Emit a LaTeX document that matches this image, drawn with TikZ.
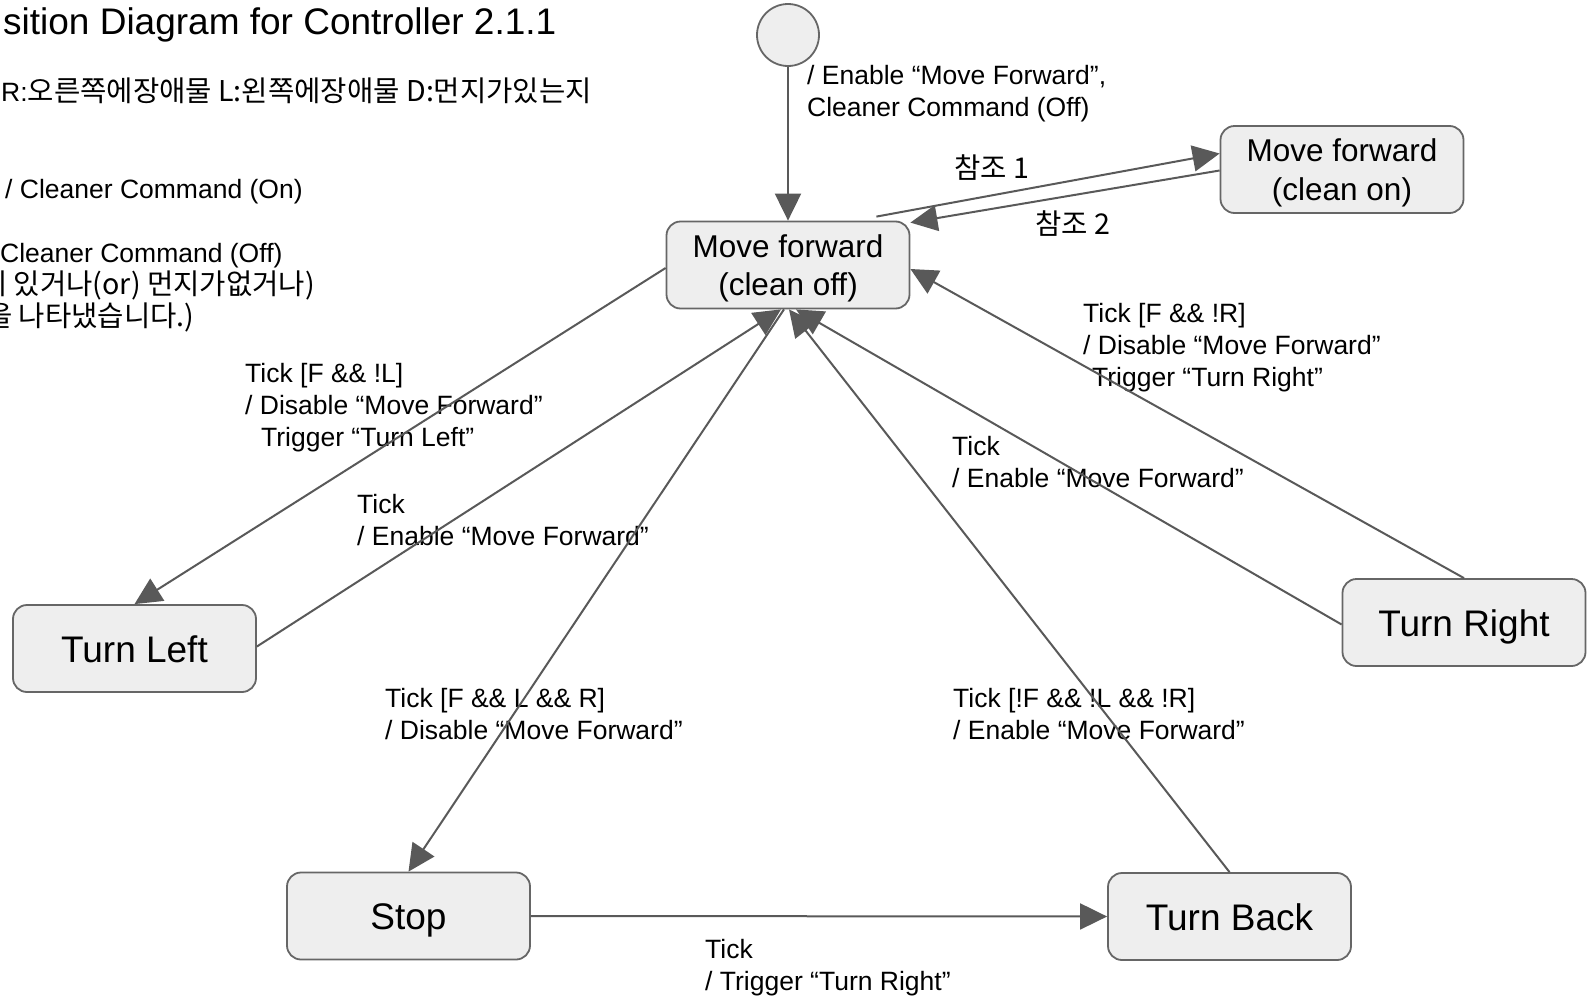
\documentclass[tikz,border=0pt]{standalone}
\usepackage{fontspec}
\setmainfont{Liberation Sans}
\newfontfamily\kr[Scale=1.08]{Noto Sans CJK KR}
\usepackage{tikz}
\usepackage{xcolor}
\usetikzlibrary{arrows.meta}
\usetikzlibrary{calc}
\definecolor{stategray}{HTML}{EEEEEE}
\definecolor{bordergray}{HTML}{666666}
\definecolor{linegray}{HTML}{595959}

\begin{document}
\begin{tikzpicture}[x=1pt,y=-1pt,
		state/.style={draw=bordergray,fill=stategray,line width=1.8pt,rounded corners=14pt,minimum width=243pt,minimum height=87pt,inner sep=0pt,align=center},
		small/.style={font=\fontsize{31.5}{38.5}\selectfont},
		big/.style={font=\fontsize{37}{44}\selectfont,text height=27pt,text depth=0pt},
		trans/.style={draw=linegray,line width=2pt,-{Triangle[length=27pt,width=26pt]}},
		lbl/.style={anchor=base west,inner sep=0pt,align=left,font=\fontsize{26.5}{32}\selectfont}]
				\useasboundingbox (0,0) rectangle (1591,996);
				\node[draw=bordergray,fill=stategray,line width=1.8pt,circle,minimum size=62pt,inner sep=0pt] (init) at (788,35) {};
				\node[state,small] (mfoff) at (788,265) {Move forward\\\smash{(clean off)}};
				\node[state,small] (mfon) at (1342,169.5) {Move forward\\\smash{(clean on)}};
				\node[state,big] (tl) at (134.5,648.5) {Turn Left};
				\node[state,big] (tr) at (1464,622.5) {Turn Right};
				\node[state,big] (stop) at (408.5,916) {Stop};
				\node[state,big] (tb) at (1229.5,916.5) {Turn Back};
				\node[lbl,font=\fontsize{37}{44}\selectfont] (title) at (3,34) {sition Diagram for Controller 2.1.1};
				\node[lbl] (legend) at (1,101) {R:\kr{오른쪽에장애물} L:\kr{왼쪽에장애물} D:\kr{먼지가있는지}};
				\node[lbl] (noteon) at (5,198) {/ Cleaner Command (On)};
				\node[lbl] (noteoff) at (0,262) {Cleaner Command (Off)};
				\node[lbl] (noteor) at (-19,294) {\kr{이 있거나(or) 먼지가없거나)}};
				\node[lbl] (notesum) at (-14,326) {\kr{을 나타냈습니다.)}};
				\node[lbl] (lblinit) at (807,116) {/ Enable “Move Forward”,\\Cleaner Command (Off)};
				\node[lbl] (lblref1) at (954,178) {\kr{참조} 1};
				\node[lbl] (lblref2) at (1035,234) {\kr{참조} 2};
				\node[lbl] (lblleft) at (245,446) {Tick [F \&\& !L]\\/ Disable “Move Forward”\\\hspace*{16pt}Trigger “Turn Left”};
				\node[lbl] (lblleftback) at (357,545) {Tick\\/ Enable “Move Forward”};
				\node[lbl] (lblright) at (1083,386) {Tick [F \&\& !R]\\/ Disable “Move Forward”\\\hspace*{9pt}Trigger “Turn Right”};
				\node[lbl] (lblrightback) at (952,487) {Tick\\/ Enable “Move Forward”};
				\node[lbl] (lblstop) at (385,739) {Tick [F \&\& L \&\& R]\\/ Disable “Move Forward”};
				\node[lbl] (lblback) at (953,739) {Tick [!F \&\& !L \&\& !R]\\/ Enable “Move Forward”};
				\node[lbl] (lblturn) at (705,990) {Tick\\/ Trigger “Turn Right”};
				\draw[trans] (init.south) -- (mfoff.north);
				\draw[trans] ($(mfoff.north east)+(-34,-4)$) -- ($(mfon.west)+(0,-16)$);
				\draw[trans] ($(mfon.west)+(0,1)$) -- ($(mfoff.north east)+(0,2)$);
				\draw[trans] ($(mfoff.west)+(0,3)$) -- (tl.north);
				\draw[trans] ($(tl.east)+(0,-2)$) -- ($(mfoff.south)+(-7,0)$);
				\draw[trans] ($(mfoff.south)+(-4,0)$) -- (stop.north);
				\draw[trans] (tb.north) -- ($(mfoff.south)+(1,0)$);
				\draw[trans] ($(tr.west)+(0,2)$) -- ($(mfoff.south)+(8,0)$);
				\draw[trans] (tr.north) -- ($(mfoff.east)+(0,4)$);
				\draw[trans] (stop.east) -- (tb.west);
			\end{tikzpicture}
\end{document}
